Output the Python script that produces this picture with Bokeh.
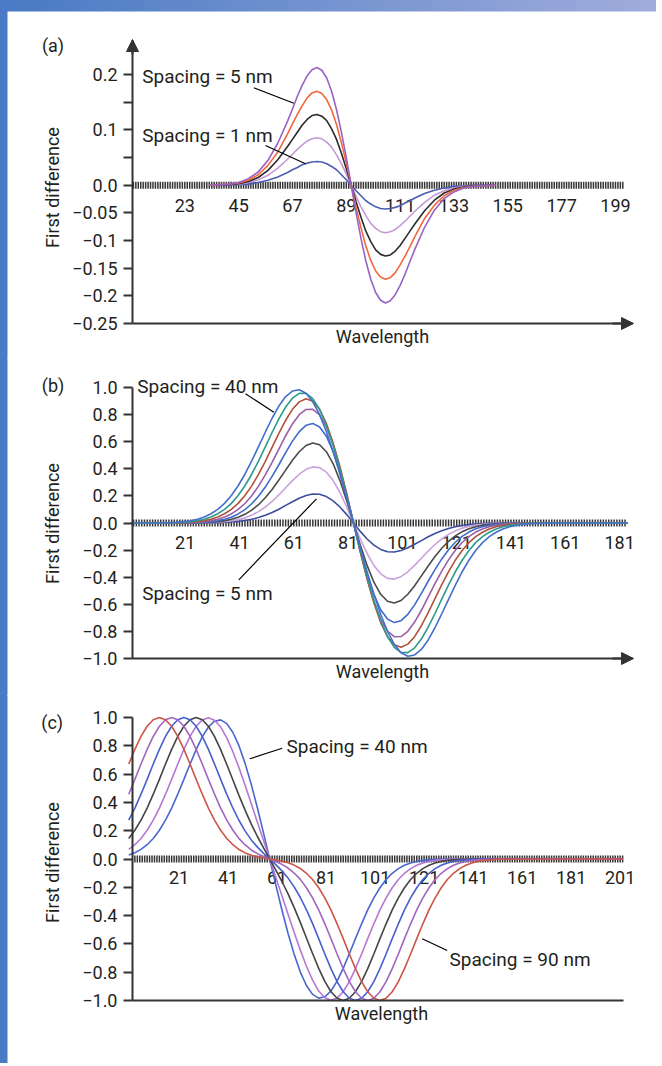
import math
from bokeh.plotting import figure
from bokeh.layouts import column
from bokeh.models import Label, Arrow, NormalHead, FixedTicker, Range1d
from bokeh.embed import file_html
from bokeh.resources import INLINE
from bokeh.core.properties import value

FONT = "Roboto"
TXT = "#231f20"
AXC = "#333333"
FS = "18px"
FS_NOTE = "19px"
W = 656
BASE_SHIFT = 7  # alphabetic baseline correction (px)

# ---------------- panel (a): spacing 1..5 nm ----------------
A_X = [33, 41, 45, 49, 53, 57, 61, 65, 67, 69, 71, 73, 75, 77, 79, 81, 83, 85, 87, 89, 91,
       93, 95, 97, 99, 101, 103, 105, 107, 109, 111, 113, 115, 117, 121, 125, 129, 133, 137, 141, 150]
A_5NM = [0, 0.002, 0.005, 0.012, 0.024, 0.045, 0.076, 0.116, 0.138, 0.161, 0.181, 0.198, 0.209, 0.213, 0.208, 0.194, 0.170, 0.137, 0.096, 0.050, 0,
         -0.050, -0.096, -0.137, -0.170, -0.194, -0.208, -0.213, -0.209, -0.198, -0.181, -0.161, -0.138, -0.116, -0.076, -0.045, -0.024, -0.012, -0.005, -0.002, 0]
A_4NM = [0, 0.002, 0.004, 0.009, 0.019, 0.036, 0.060, 0.093, 0.111, 0.128, 0.144, 0.158, 0.167, 0.170, 0.166, 0.155, 0.136, 0.110, 0.077, 0.040, 0,
         -0.040, -0.077, -0.110, -0.136, -0.155, -0.166, -0.170, -0.167, -0.158, -0.144, -0.128, -0.111, -0.093, -0.060, -0.036, -0.019, -0.009, -0.004, -0.002, 0]
A_3NM = [0, 0.001, 0.003, 0.007, 0.014, 0.027, 0.046, 0.070, 0.083, 0.096, 0.109, 0.119, 0.126, 0.128, 0.125, 0.117, 0.102, 0.083, 0.058, 0.030, 0,
         -0.030, -0.058, -0.083, -0.102, -0.117, -0.125, -0.128, -0.126, -0.119, -0.109, -0.096, -0.083, -0.070, -0.046, -0.027, -0.014, -0.007, -0.003, -0.001, 0]
A_2NM = [0, 0.001, 0.002, 0.005, 0.010, 0.018, 0.031, 0.047, 0.056, 0.065, 0.073, 0.080, 0.084, 0.086, 0.084, 0.078, 0.069, 0.055, 0.039, 0.020, 0,
         -0.020, -0.039, -0.055, -0.069, -0.078, -0.084, -0.086, -0.084, -0.080, -0.073, -0.065, -0.056, -0.047, -0.031, -0.018, -0.010, -0.005, -0.002, -0.001, 0]
A_1NM = [0, 0.000, 0.001, 0.002, 0.005, 0.009, 0.015, 0.023, 0.028, 0.032, 0.037, 0.040, 0.042, 0.043, 0.042, 0.039, 0.034, 0.028, 0.019, 0.010, 0,
         -0.010, -0.019, -0.028, -0.034, -0.039, -0.042, -0.043, -0.042, -0.040, -0.037, -0.032, -0.028, -0.023, -0.015, -0.009, -0.005, -0.002, -0.001, 0.000, 0]
A_XLABELS = [23, 45, 67, 89, 111, 133, 155, 177, 199]
A_YTICKS = [-0.25, -0.2, -0.15, -0.1, -0.05, 0.0, 0.05, 0.1, 0.15, 0.2]
A_YLABELS = ["\u22120.25", "\u22120.2", "\u22120.15", "\u22120.1", "\u22120.05", "0.0", "", "0.1", "", "0.2"]

# ---------------- panel (b): spacing 5..40 nm ----------------
B_X = [1.0, 13.0, 15.5, 18.0, 20.5, 23.0, 25.5, 28.0, 30.5, 33.0, 35.5, 38.0, 40.5, 43.0, 45.5, 48.0, 50.5, 53.0,
       55.5, 58.0, 60.5, 63.0, 65.5, 68.0, 70.5, 73.0, 75.5, 78.0, 80.5, 83.0, 85.5, 88.0, 90.5, 93.0, 95.5, 98.0,
       100.5, 103.0, 105.5, 108.0, 110.5, 113.0, 115.5, 118.0, 120.5, 123.0, 125.5, 128.0, 130.5, 133.0, 135.5,
       138.0, 140.5, 143.0, 145.5, 148.0, 150.5, 153.0, 184.0]
B_40NM = [0, 0.002, 0.003, 0.006, 0.010, 0.017, 0.028, 0.044, 0.068, 0.101, 0.145, 0.203, 0.275, 0.360, 0.458, 0.563, 0.670, 0.773, 0.863, 0.933, 0.974, 0.983, 0.957, 0.894, 0.799, 0.674, 0.526, 0.360, 0.183, 0,
          -0.183, -0.360, -0.526, -0.674, -0.799, -0.894, -0.957, -0.983, -0.974, -0.933, -0.863, -0.773, -0.670, -0.563, -0.458, -0.360, -0.275, -0.203, -0.145, -0.101, -0.068, -0.044, -0.028, -0.017, -0.010, -0.006, -0.003, -0.002, 0]
B_35NM = [0, 0.001, 0.002, 0.003, 0.006, 0.010, 0.017, 0.028, 0.044, 0.068, 0.101, 0.145, 0.203, 0.275, 0.360, 0.457, 0.562, 0.668, 0.769, 0.856, 0.921, 0.957, 0.956, 0.917, 0.838, 0.721, 0.572, 0.396, 0.203, 0,
          -0.203, -0.396, -0.572, -0.721, -0.838, -0.917, -0.956, -0.957, -0.921, -0.856, -0.769, -0.668, -0.562, -0.457, -0.360, -0.275, -0.203, -0.145, -0.101, -0.068, -0.044, -0.028, -0.017, -0.010, -0.006, -0.003, -0.002, -0.001, 0]
B_30NM = [0, 0.001, 0.001, 0.002, 0.003, 0.006, 0.010, 0.017, 0.028, 0.044, 0.068, 0.101, 0.145, 0.203, 0.274, 0.359, 0.455, 0.558, 0.661, 0.758, 0.839, 0.894, 0.917, 0.899, 0.839, 0.735, 0.591, 0.414, 0.214, 0,
          -0.214, -0.414, -0.591, -0.735, -0.839, -0.899, -0.917, -0.894, -0.839, -0.758, -0.661, -0.558, -0.455, -0.359, -0.274, -0.203, -0.145, -0.101, -0.068, -0.044, -0.028, -0.017, -0.010, -0.006, -0.003, -0.002, -0.001, -0.001, 0]
B_25NM = [0, 0, 0.001, 0.001, 0.002, 0.003, 0.006, 0.010, 0.017, 0.028, 0.044, 0.067, 0.100, 0.144, 0.201, 0.272, 0.355, 0.448, 0.546, 0.644, 0.731, 0.799, 0.838, 0.839, 0.797, 0.709, 0.578, 0.409, 0.212, 0,
          -0.212, -0.409, -0.578, -0.709, -0.797, -0.839, -0.838, -0.799, -0.731, -0.644, -0.546, -0.448, -0.355, -0.272, -0.201, -0.144, -0.100, -0.067, -0.044, -0.028, -0.017, -0.010, -0.006, -0.003, -0.002, -0.001, -0.001, 0, 0]
B_20NM = [0, 0, 0, 0.001, 0.001, 0.002, 0.003, 0.006, 0.010, 0.017, 0.028, 0.043, 0.067, 0.099, 0.142, 0.197, 0.265, 0.344, 0.430, 0.519, 0.604, 0.674, 0.721, 0.735, 0.709, 0.640, 0.526, 0.375, 0.195, 0,
          -0.195, -0.375, -0.526, -0.640, -0.709, -0.735, -0.721, -0.674, -0.604, -0.519, -0.430, -0.344, -0.265, -0.197, -0.142, -0.099, -0.067, -0.043, -0.028, -0.017, -0.010, -0.006, -0.003, -0.002, -0.001, -0.001, 0, 0, 0]
B_15NM = [0, 0, 0, 0, 0.001, 0.001, 0.002, 0.003, 0.006, 0.010, 0.016, 0.027, 0.042, 0.064, 0.095, 0.135, 0.186, 0.247, 0.317, 0.390, 0.463, 0.526, 0.572, 0.591, 0.578, 0.526, 0.437, 0.313, 0.163, 0,
          -0.163, -0.313, -0.437, -0.526, -0.578, -0.591, -0.572, -0.526, -0.463, -0.390, -0.317, -0.247, -0.186, -0.135, -0.095, -0.064, -0.042, -0.027, -0.016, -0.010, -0.006, -0.003, -0.002, -0.001, -0.001, 0, 0, 0, 0]
B_10NM = [0, 0, 0, 0, 0, 0.001, 0.001, 0.002, 0.003, 0.005, 0.009, 0.015, 0.025, 0.038, 0.058, 0.084, 0.118, 0.159, 0.207, 0.260, 0.313, 0.360, 0.396, 0.414, 0.409, 0.375, 0.313, 0.225, 0.118, 0,
          -0.118, -0.225, -0.313, -0.375, -0.409, -0.414, -0.396, -0.360, -0.313, -0.260, -0.207, -0.159, -0.118, -0.084, -0.058, -0.038, -0.025, -0.015, -0.009, -0.005, -0.003, -0.002, -0.001, -0.001, 0, 0, 0, 0, 0]
B_5NM = [0, 0, 0, 0, 0, 0, 0, 0.001, 0.001, 0.002, 0.004, 0.007, 0.011, 0.018, 0.027, 0.040, 0.057, 0.078, 0.102, 0.130, 0.157, 0.183, 0.203, 0.214, 0.212, 0.195, 0.163, 0.118, 0.062, 0,
         -0.062, -0.118, -0.163, -0.195, -0.212, -0.214, -0.203, -0.183, -0.157, -0.130, -0.102, -0.078, -0.057, -0.040, -0.027, -0.018, -0.011, -0.007, -0.004, -0.002, -0.001, -0.001, 0, 0, 0, 0, 0, 0, 0]
B_XLABELS = [21, 41, 61, 81, 101, 121, 141, 161, 181]
B_YTICKS = [-1.0, -0.8, -0.6, -0.4, -0.2, 0.0, 0.2, 0.4, 0.6, 0.8, 1.0]
B_YLABELS = ["\u22121.0", "\u22120.8", "\u22120.6", "\u22120.4", "\u22120.2", "0.0", "0.2", "0.4", "0.6", "0.8", "1.0"]

# ---------------- panel (c): spacing 40..90 nm ----------------
C_X = [0.5, 3.0, 5.5, 8.0, 10.5, 13.0, 15.5, 18.0, 20.5, 23.0, 25.5, 28.0, 30.5, 33.0, 35.5, 38.0, 40.5, 43.0,
       45.5, 48.0, 50.5, 53.0, 55.5, 58.0, 60.5, 63.0, 65.5, 68.0, 70.5, 73.0, 75.5, 78.0, 80.5, 83.0, 85.5, 88.0,
       90.5, 93.0, 95.5, 98.0, 100.5, 103.0, 105.5, 108.0, 110.5, 113.0, 115.5, 118.0, 120.5, 123.0, 125.5, 128.0,
       130.5, 133.0, 135.5, 138.0, 140.5, 143.0, 145.5, 148.0, 150.5, 153.0, 202.0]
C_40NM = [0.028, 0.044, 0.068, 0.101, 0.145, 0.203, 0.275, 0.360, 0.458, 0.563, 0.670, 0.773, 0.863, 0.933, 0.974, 0.983, 0.957, 0.894, 0.799, 0.674, 0.526, 0.360, 0.183, 0,
          -0.183, -0.360, -0.526, -0.674, -0.799, -0.894, -0.957, -0.983, -0.974, -0.933, -0.863, -0.773, -0.670, -0.563, -0.458, -0.360, -0.275, -0.203, -0.145, -0.101, -0.068, -0.044, -0.028, -0.017, -0.010, -0.006, -0.003, -0.002, -0.001, 0, 0, 0, 0, 0, 0, 0, 0, 0, 0]
C_50NM = [0.068, 0.101, 0.145, 0.203, 0.275, 0.360, 0.458, 0.563, 0.671, 0.775, 0.866, 0.938, 0.983, 0.998, 0.981, 0.933, 0.856, 0.758, 0.644, 0.519, 0.390, 0.260, 0.130, 0,
          -0.130, -0.260, -0.390, -0.519, -0.644, -0.758, -0.856, -0.933, -0.981, -0.998, -0.983, -0.938, -0.866, -0.775, -0.671, -0.563, -0.458, -0.360, -0.275, -0.203, -0.145, -0.101, -0.068, -0.044, -0.028, -0.017, -0.010, -0.006, -0.003, -0.002, -0.001, -0.001, 0, 0, 0, 0, 0, 0, 0]
C_60NM = [0.145, 0.203, 0.275, 0.360, 0.458, 0.563, 0.671, 0.775, 0.866, 0.938, 0.984, 1.000, 0.984, 0.938, 0.865, 0.773, 0.668, 0.558, 0.448, 0.344, 0.247, 0.159, 0.078, 0,
          -0.078, -0.159, -0.247, -0.344, -0.448, -0.558, -0.668, -0.773, -0.865, -0.938, -0.984, -1.000, -0.984, -0.938, -0.866, -0.775, -0.671, -0.563, -0.458, -0.360, -0.275, -0.203, -0.145, -0.101, -0.068, -0.044, -0.028, -0.017, -0.010, -0.006, -0.003, -0.002, -0.001, -0.001, 0, 0, 0, 0, 0]
C_70NM = [0.275, 0.360, 0.458, 0.563, 0.671, 0.775, 0.866, 0.938, 0.984, 1.000, 0.984, 0.938, 0.866, 0.775, 0.671, 0.563, 0.457, 0.359, 0.272, 0.197, 0.135, 0.084, 0.040, 0,
          -0.040, -0.084, -0.135, -0.197, -0.272, -0.359, -0.457, -0.563, -0.671, -0.775, -0.866, -0.938, -0.984, -1.000, -0.984, -0.938, -0.866, -0.775, -0.671, -0.563, -0.458, -0.360, -0.275, -0.203, -0.145, -0.101, -0.068, -0.044, -0.028, -0.017, -0.010, -0.006, -0.003, -0.002, -0.001, -0.001, 0, 0, 0]
C_80NM = [0.458, 0.563, 0.671, 0.775, 0.866, 0.938, 0.984, 1.000, 0.984, 0.938, 0.866, 0.775, 0.671, 0.563, 0.458, 0.360, 0.275, 0.203, 0.144, 0.099, 0.064, 0.038, 0.018, 0,
          -0.018, -0.038, -0.064, -0.099, -0.144, -0.203, -0.275, -0.360, -0.458, -0.563, -0.671, -0.775, -0.866, -0.938, -0.984, -1.000, -0.984, -0.938, -0.866, -0.775, -0.671, -0.563, -0.458, -0.360, -0.275, -0.203, -0.145, -0.101, -0.068, -0.044, -0.028, -0.017, -0.010, -0.006, -0.003, -0.002, -0.001, -0.001, 0]
C_90NM = [0.671, 0.775, 0.866, 0.938, 0.984, 1.000, 0.984, 0.938, 0.866, 0.775, 0.671, 0.563, 0.458, 0.360, 0.275, 0.203, 0.145, 0.101, 0.067, 0.043, 0.027, 0.015, 0.007, 0,
          -0.007, -0.015, -0.027, -0.043, -0.067, -0.101, -0.145, -0.203, -0.275, -0.360, -0.458, -0.563, -0.671, -0.775, -0.866, -0.938, -0.984, -1.000, -0.984, -0.938, -0.866, -0.775, -0.671, -0.563, -0.458, -0.360, -0.275, -0.203, -0.145, -0.101, -0.068, -0.044, -0.028, -0.017, -0.010, -0.006, -0.003, -0.002, 0]
C_XLABELS = [21, 41, 61, 81, 101, 121, 141, 161, 181, 201]
C_YTICKS = B_YTICKS
C_YLABELS = B_YLABELS

for X, ys in ((A_X, (A_5NM, A_4NM, A_3NM, A_2NM, A_1NM)),
              (B_X, (B_40NM, B_35NM, B_30NM, B_25NM, B_20NM, B_15NM, B_10NM, B_5NM)),
              (C_X, (C_40NM, C_50NM, C_60NM, C_70NM, C_80NM, C_90NM))):
    for y in ys:
        assert len(y) == len(X), (len(X), len(y))

BAR = "#4a7bc4"
PAGE_STYLE = {
    "background": "linear-gradient(to right, #4a7bc4, #a0acdc) 0 0 / 100% 11px no-repeat, "
                  "linear-gradient(#4a7bc4, #4a7bc4) 0 0 / 7px 100% no-repeat, #ffffff",
}


class Panel:
    """Layout of one panel: where the y axis sits on the page and the scale."""
    def __init__(self, x_at_axis, px_per_x, zero_py, px_per_y, top, height):
        self.xa, self.sx, self.z, self.sy, self.top, self.h = x_at_axis, px_per_x, zero_py, px_per_y, top, height

    def x(self, px):
        return self.xa + (px - 132.0) / self.sx

    def y(self, py):
        return (self.z - py) / self.sy


def make_fig(P):
    p = figure(width=W, height=P.h,
               x_range=Range1d(P.x(0), P.x(W)), y_range=Range1d(P.y(P.top + P.h), P.y(P.top)),
               min_border_left=0, min_border_right=0, min_border_top=0, min_border_bottom=0,
               output_backend="svg", toolbar_location=None)
    p.title.visible = False
    p.xgrid.visible = False
    p.ygrid.visible = False
    p.outline_line_color = None
    p.background_fill_color = None
    p.border_fill_color = None
    # page decoration: blue bar along the left edge
    p.quad(left=[P.x(-5)], right=[P.x(7)], top=[P.y(P.top - 30)], bottom=[P.y(P.top + P.h + 30)],
           fill_color=BAR, line_color=None)
    return p


def style_axes(p, P, yticks, ylabels, ybounds, xbounds):
    ya = p.yaxis[0]
    ya.fixed_location = P.xa
    ya.bounds = ybounds
    ya.ticker = FixedTicker(ticks=yticks, minor_ticks=[])
    ya.major_label_overrides = dict(zip(yticks, ylabels))
    ya.axis_line_color = AXC
    ya.axis_line_width = 2
    ya.major_tick_line_color = AXC
    ya.major_tick_line_width = 2
    ya.major_tick_in = 0
    ya.major_tick_out = 9
    ya.minor_tick_line_color = None
    ya.major_label_standoff = 6
    ya.major_label_text_font = FONT
    ya.major_label_text_font_size = FS
    ya.major_label_text_color = TXT

    xa = p.xaxis[0]
    xa.fixed_location = ybounds[0]
    xa.bounds = xbounds
    xa.ticker = FixedTicker(ticks=[], minor_ticks=[])
    xa.major_tick_in = 0
    xa.major_tick_out = 0
    xa.minor_tick_line_color = None
    xa.axis_line_color = AXC
    xa.axis_line_width = 2


def zero_band(p, x0, x1, labels, label_offset):
    ticks = list(range(x0, x1 + 1))
    p.scatter(x=ticks, y=[0] * len(ticks), marker="dash", size=7, angle=math.pi / 2,
              line_color="#2a2a2a", line_width=1.5, line_alpha=0.95)
    p.text(x=labels, y=[0] * len(labels), text=[str(v) for v in labels],
           text_align="center", text_baseline="alphabetic", y_offset=label_offset - BASE_SHIFT,
           text_font=value(FONT), text_font_size=value(FS), text_color=TXT)


def add_text(p, P, px, py, t, align="left", baseline="alphabetic", angle=0.0, size=FS):
    if baseline == "alphabetic":
        py = py - BASE_SHIFT
    p.add_layout(Label(x=P.x(px), y=P.y(py), text=t, text_align=align, text_baseline=baseline,
                       angle=angle, text_font=FONT, text_font_size=size, text_color=TXT))


def leaders(p, P, segs):
    p.segment(x0=[P.x(s[0]) for s in segs], y0=[P.y(s[1]) for s in segs],
              x1=[P.x(s[2]) for s in segs], y1=[P.y(s[3]) for s in segs],
              line_color="black", line_width=1.2)


def head():
    return NormalHead(size=12, fill_color=AXC, line_color=AXC, line_width=1)


PA = Panel(1.63, 2.447, 184.76, 552.95, 0, 358)
PB = Panel(1.59, 2.715, 522.5, 135.5, 358, 337)
PC = Panel(2.03, 2.451, 858.5, 141.5, 695, 368)

# ---------------- (a) ----------------
pa = make_fig(PA)
# top gradient bar of the page
n_seg = 41
for i in range(n_seg):
    f = i / (n_seg - 1)
    col = "#%02x%02x%02x" % (int(74 + f * 86), int(123 + f * 49), int(196 + f * 24))
    pa.quad(left=[PA.x(i * W / n_seg)], right=[PA.x((i + 1) * W / n_seg + 0.5)],
            top=[PA.y(-20)], bottom=[PA.y(11)], fill_color=col, line_color=None)
style_axes(pa, PA, A_YTICKS, A_YLABELS, (-0.25, PA.y(40)), (PA.xa, PA.x(632)))
zero_band(pa, 2, 202, A_XLABELS, 27)
for y, c in ((A_1NM, "#4b5db5"), (A_2NM, "#c49ad6"), (A_3NM, "#2b2b2b"), (A_4NM, "#f2673a"), (A_5NM, "#9a62c4")):
    pa.line(A_X, y, line_color=c, line_width=1.6)
leaders(pa, PA, [(253.3, 87.3, 293.3, 102.7), (265.0, 145.0, 305.0, 163.3)])
add_text(pa, PA, 141.7, 82.7, "Spacing = 5 nm", size=FS_NOTE)
add_text(pa, PA, 141.7, 141.7, "Spacing = 1 nm", size=FS_NOTE)
add_text(pa, PA, 52.5, 52.0, "(a)", "center")
add_text(pa, PA, 51.5, 187.0, "First difference", "center", "middle", math.pi / 2)
add_text(pa, PA, 382.0, 343.0, "Wavelength", "center")
pa.add_layout(Arrow(end=head(), x_start=PA.xa, y_start=PA.y(54), x_end=PA.xa, y_end=PA.y(39),
                    line_color=AXC, line_width=2))
pa.add_layout(Arrow(end=head(), x_start=PA.x(612), y_start=-0.25, x_end=PA.x(633), y_end=-0.25,
                    line_color=AXC, line_width=2))

# ---------------- (b) ----------------
pb = make_fig(PB)
style_axes(pb, PB, B_YTICKS, B_YLABELS, (-1.0, 1.0), (PB.xa, PB.x(632)))
zero_band(pb, 2, 183, B_XLABELS, 26)
for y, c in ((B_5NM, "#3d4d9e"), (B_10NM, "#c9a2dc"), (B_15NM, "#4a4a4a"), (B_20NM, "#3f6ccc"),
             (B_25NM, "#9b5fa8"), (B_30NM, "#b0533a"), (B_35NM, "#2e9a8c"), (B_40NM, "#4470cc")):
    pb.line(B_X, y, line_color=c, line_width=1.6)
leaders(pb, PB, [(245.0, 393.3, 273.3, 411.7), (238.3, 579.3, 316.0, 498.3)])
add_text(pb, PB, 136.7, 393.3, "Spacing = 40 nm", size=FS_NOTE)
add_text(pb, PB, 141.7, 600.0, "Spacing = 5 nm", size=FS_NOTE)
add_text(pb, PB, 52.5, 391.5, "(b)", "center")
add_text(pb, PB, 52.0, 523.0, "First difference", "center", "middle", math.pi / 2)
add_text(pb, PB, 382.0, 678.3, "Wavelength", "center")
pb.add_layout(Arrow(end=head(), x_start=PB.x(612), y_start=-1.0, x_end=PB.x(633), y_end=-1.0,
                    line_color=AXC, line_width=2))

# ---------------- (c) ----------------
pc = make_fig(PC)
style_axes(pc, PC, C_YTICKS, C_YLABELS, (-1.0, 1.0), (PC.xa, PC.x(623.3)))
zero_band(pc, 3, 202, C_XLABELS, 25)
for y, c in ((C_40NM, "#4a66d0"), (C_50NM, "#b678d2"), (C_60NM, "#454545"), (C_70NM, "#4660cc"),
             (C_80NM, "#a165c2"), (C_90NM, "#cc5548")):
    pc.line(C_X, y, line_color=c, line_width=1.6)
leaders(pc, PC, [(249.3, 758.3, 281.7, 747.7), (421.7, 938.3, 446.7, 950.0)])
add_text(pc, PC, 286.0, 753.3, "Spacing = 40 nm", size=FS_NOTE)
add_text(pc, PC, 449.0, 966.0, "Spacing = 90 nm", size=FS_NOTE)
add_text(pc, PC, 51.7, 729.0, "(c)", "center")
add_text(pc, PC, 52.0, 862.0, "First difference", "center", "middle", math.pi / 2)
add_text(pc, PC, 381.0, 1020.0, "Wavelength", "center")

layout = column(pa, pb, pc, styles=PAGE_STYLE)
open("out.html", "w").write(file_html(layout, INLINE, title="First difference vs spacing"))
